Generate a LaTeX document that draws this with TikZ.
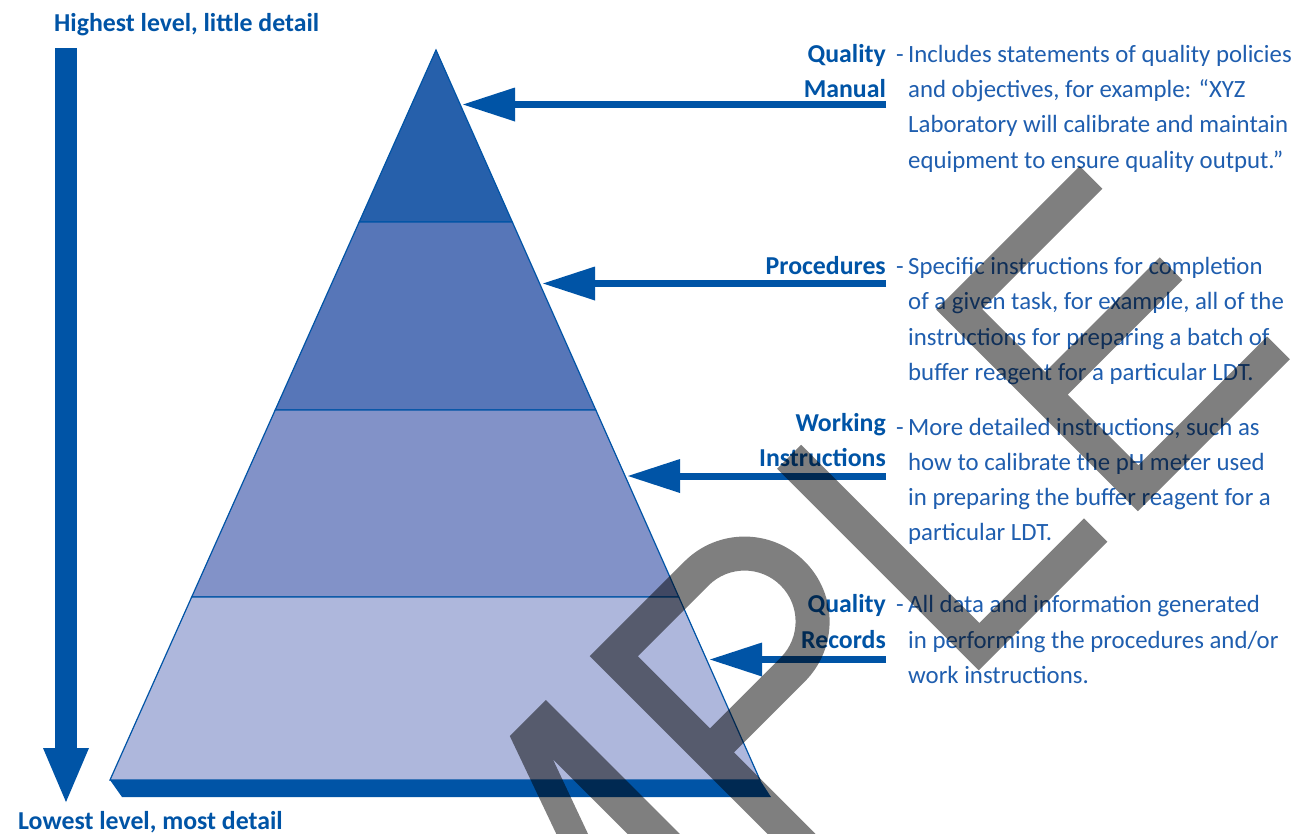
\documentclass[tikz,border=0pt]{standalone}
\usepackage{fontspec}
\setmainfont{Carlito}
\usetikzlibrary{arrows.meta}

\definecolor{brand}{HTML}{0054A6}
\definecolor{bodyblue}{HTML}{1F5EAF}
\definecolor{tierA}{HTML}{2660AB}
\definecolor{tierB}{HTML}{5776B8}
\definecolor{tierC}{HTML}{8292C8}
\definecolor{tierD}{HTML}{AEB7DC}

\begin{document}
\begin{tikzpicture}[x=1pt, y=-1pt,
  heading/.style={font=\bfseries\fontsize{25.8}{35.3}\selectfont, text=brand, inner sep=0pt},
  desc/.style={font=\fontsize{24.8}{35.3}\selectfont, text=bodyblue, inner sep=0pt, anchor=base west},
  feed/.style={draw=brand, line width=7pt, -{Triangle[length=52pt,width=34pt,line width=0pt]}},
  layer/.style={draw=brand, line width=1.2pt, line join=miter},
  stamp/.style={fill=black, fill opacity=0.5, even odd rule}]

% page
\useasboundingbox (0,0) rectangle (1308,833);
\fill[white] (0,0) rectangle (1308,833);

% level captions and the descending arrow
\node[heading, anchor=base west] (highest) at (54,31) {Highest level, little detail};
\node[heading, anchor=base west] (lowest) at (18,829) {Lowest level, most detail};
\coordinate (descentStart) at (66,48);
\coordinate (descentEnd) at (66,802);
\draw[brand, line width=22pt, -{Triangle[length=54pt,width=46pt,line width=0pt]}]
  (descentStart) -- (descentEnd);

% pyramid tiers
\path[layer, fill=tierA] (436,50) -- (512.3,222) -- (359.2,222) -- cycle;
\path[layer, fill=tierB] (359.2,222) -- (512.3,222) -- (595.8,410) -- (275.2,410) -- cycle;
\path[layer, fill=tierC] (275.2,410) -- (595.8,410) -- (678.8,597) -- (191.7,597) -- cycle;
\path[layer, fill=tierD] (191.7,597) -- (678.8,597) -- (760,780) -- (110,780) -- cycle;
\fill[brand] (110,780) -- (760,780) -- (771,797) -- (122,797) -- cycle;

% tier labels
\node[heading, anchor=base east] (manual) at (886,62.3)
  {\parbox[t]{200pt}{\raggedleft Quality\\Manual}};
\node[heading, anchor=base east] (procedures) at (886,274.5)
  {\parbox[t]{200pt}{\raggedleft Procedures}};
\node[heading, anchor=base east] (working) at (886,431)
  {\parbox[t]{200pt}{\raggedleft Working\\Instructions}};
\node[heading, anchor=base east] (records) at (886,612.8)
  {\parbox[t]{200pt}{\raggedleft Quality\\Records}};

% descriptions
\node[desc] (manualDash) at (896,62.3) {-};
\node[desc] (manualText) at (908,62.3) {\parbox[t]{420pt}{\raggedright
  Includes statements of quality policies\\
  and objectives, for example: “XYZ\\
  Laboratory will calibrate and maintain\\
  equipment to ensure quality output.”}};
\node[desc] (proceduresDash) at (896,274.5) {-};
\node[desc] (proceduresText) at (908,274.5) {\parbox[t]{420pt}{\raggedright
  Specific instructions for completion\\
  of a given task, for example, all of the\\
  instructions for preparing a batch of\\
  buffer reagent for a particular LDT.}};
\node[desc] (workingDash) at (896,435) {-};
\node[desc] (workingText) at (908,435) {\parbox[t]{420pt}{\raggedright
  More detailed instructions, such as\\
  how to calibrate the pH meter used\\
  in preparing the buffer reagent for a\\
  particular LDT.}};
\node[desc] (recordsDash) at (896,612.8) {-};
\node[desc] (recordsText) at (908,612.8) {\parbox[t]{420pt}{\raggedright
  All data and information generated\\
  in performing the procedures and/or\\
  work instructions.}};

% pointers from the labels to the tiers
\coordinate (manualFrom) at (886,104.5);
\coordinate (manualTo) at (463,104.5);
\coordinate (proceduresFrom) at (886,283.5);
\coordinate (proceduresTo) at (543,283.5);
\coordinate (workingFrom) at (886,476);
\coordinate (workingTo) at (628,476);
\coordinate (recordsFrom) at (886,659.5);
\coordinate (recordsTo) at (710,659.5);
\draw[feed] (manualFrom) -- (manualTo);
\draw[feed] (proceduresFrom) -- (proceduresTo);
\draw[feed] (workingFrom) -- (workingTo);
\draw[feed] (recordsFrom) -- (recordsTo);

% SAMPLE stamp, set along a 45 degree baseline
\begin{scope}
  \clip (0,0) rectangle (1308,833);
  \begin{scope}[rotate=45]
    % M
    \fill[stamp] (-109,881) -- (-109,1166) -- (-146,1166) -- (-146,928) -- (-250,1217)
      -- (-354,928) -- (-354,1166) -- (-391,1166) -- (-391,881) -- (-340,881)
      -- (-250,1134) -- (-160,881) -- cycle;
    % P
    \fill[stamp] (-47,1166) -- (-47,881) -- (87,881) arc[start angle=-90, end angle=90, radius=85]
      -- (-13,1051) -- (-13,1166) -- cycle
      (-13,915) -- (87,915) arc[start angle=-90, end angle=90, radius=51] -- (-13,1017) -- cycle;
    % L
    \fill[stamp] (218,881) -- (252,881) -- (252,1133) -- (400,1133) -- (400,1166) -- (218,1166) -- cycle;
    % E
    \fill[stamp] (443,881) -- (646,881) -- (646,913) -- (476,913) -- (476,1002) -- (638,1002)
      -- (638,1034) -- (476,1034) -- (476,1134) -- (658,1134) -- (658,1166) -- (443,1166) -- cycle;
  \end{scope}
\end{scope}
\end{tikzpicture}
\end{document}
